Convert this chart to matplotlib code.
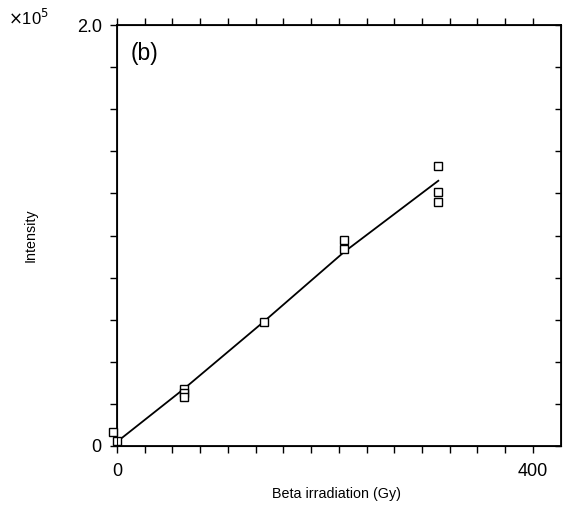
import matplotlib
matplotlib.use("Agg")
import matplotlib.pyplot as plt
import numpy as np

plt.rcParams['font.family'] = ['Liberation Sans', 'DejaVu Sans']

# data (intensity in units of 1e5)
dose = [-4, 0, 64, 64, 64, 141, 218, 218, 309, 309, 309]
intensity = [0.067, 0.024, 0.271, 0.252, 0.233, 0.589, 0.979, 0.936, 1.33, 1.207, 1.159]
fit_dose = [0, 64, 141, 218, 309]
fit_intensity = [0.02, 0.27, 0.59, 0.92, 1.26]

x_major_labels = {0: "0", 400: "400"}
y_major_labels = {0.0: "0", 2.0: "2.0"}

fig = plt.figure(figsize=(5.63, 5.12), dpi=100)
ax = fig.add_axes([117/563, (512-446)/512, (561-117)/563, (446-25)/512])

ax.plot(fit_dose, fit_intensity, color='black', lw=1.3)
ax.plot(dose, intensity, linestyle='none', marker='s', markersize=5.5,
        markerfacecolor='white', markeredgecolor='black', markeredgewidth=1.0,
        clip_on=False, zorder=3)

ax.set_xlim(0, 427)
ax.set_ylim(0, 2.0)

xt = np.arange(16) * 400 / 15
ax.set_xticks(xt)
ax.set_xticklabels([x_major_labels.get(int(round(v)), "") if abs(v - round(v)) < 1e-6 else "" for v in xt])
yt = np.round(np.arange(0, 2.01, 0.2), 1)
ax.set_yticks(yt)
ax.set_yticklabels([y_major_labels.get(float(v), "") for v in yt])

ax.tick_params(axis='both', direction='out', length=5, width=1, labelsize=13)
ax.tick_params(axis='y', pad=6)
ax.tick_params(axis='x', pad=7)
ax.tick_params(top=True, right=False)
for s in ax.spines.values():
    s.set_linewidth(1.3)

# inward ticks on right spine
ax2 = ax.twinx()
ax2.set_ylim(0, 2.0)
ax2.set_yticks(yt)
ax2.set_yticklabels([])
ax2.tick_params(axis='y', direction='in', length=4, width=1)

ax.set_xlabel("Beta irradiation (Gy)", fontsize=10.3)
ax.xaxis.set_label_coords((337-117)/444, -(487-446)/421)
ax.set_ylabel("Intensity", fontsize=10.3)
ax.yaxis.set_label_coords((38-117)/444, 0.5)
ax.text(0.03, 0.96, "(b)", transform=ax.transAxes, fontsize=16.5, va='top', ha='left')
fig.text(8/563, 1 - 18/512, r"$\times$10$^5$", fontsize=12, va='center', ha='left')

fig.savefig("out.png", dpi=100)
